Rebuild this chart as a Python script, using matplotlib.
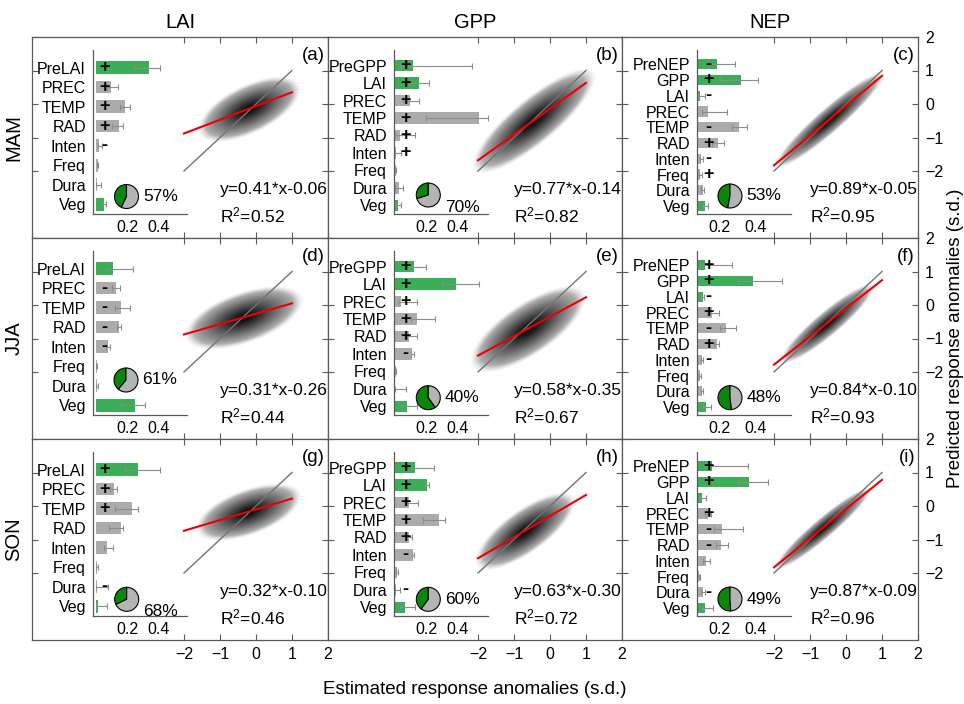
import numpy as np
import matplotlib
matplotlib.use("Agg")
import matplotlib.pyplot as plt
from matplotlib.transforms import blended_transform_factory

plt.rcParams['font.family'] = ['Liberation Sans', 'DejaVu Sans']
plt.rcParams['mathtext.fontset'] = 'custom'
plt.rcParams['mathtext.rm'] = 'Liberation Sans'
plt.rcParams['mathtext.it'] = 'Liberation Sans'

# figure size in pixels
W, H = 964, 704

# ---------------- data ----------------
targets = ["LAI", "GPP", "NEP"]
seasons = ["MAM", "JJA", "SON"]
tags = ["(a)", "(b)", "(c)", "(d)", "(e)", "(f)", "(g)", "(h)", "(i)"]

labels_lai = ["PreLAI", "PREC", "TEMP", "RAD", "Inten", "Freq", "Dura", "Veg"]
labels_gpp = ["PreGPP", "LAI", "PREC", "TEMP", "RAD", "Inten", "Freq", "Dura", "Veg"]
labels_nep = ["PreNEP", "GPP", "LAI", "PREC", "TEMP", "RAD", "Inten", "Freq", "Dura", "Veg"]
green_lai = ["PreLAI", "Veg"]
green_gpp = ["PreGPP", "LAI", "Veg"]
green_nep = ["PreNEP", "GPP", "LAI", "Veg"]

# relative importance (bar), error bar low / high, sign of effect
imp_a = [0.34, 0.096, 0.186, 0.143, 0.02, 0.01, 0.005, 0.05]
lo_a = [0.24, 0.068, 0.154, 0.10, 0.01, 0.005, 0.0, 0.04]
hi_a = [0.41, 0.137, 0.213, 0.17, 0.035, 0.015, 0.03, 0.06]
sign_a = ["+", "+", "+", "+", "-", "", "", ""]

imp_b = [0.116, 0.154, 0.095, 0.53, 0.032, 0.01, 0.005, 0.025, 0.02]
lo_b = [0.03, 0.09, 0.05, 0.196, 0.0, 0.0, 0.0, 0.0, 0.0]
hi_b = [0.49, 0.217, 0.154, 0.59, 0.13, 0.04, 0.008, 0.05, 0.04]
sign_b = ["+", "+", "+", "+", "+", "+", "", "", ""]

imp_c = [0.184, 0.317, 0.089, 0.138, 0.306, 0.19, 0.097, 0.093, 0.107, 0.12]
lo_c = [0.14, 0.2, 0.08, 0.1, 0.27, 0.16, 0.09, 0.085, 0.095, 0.11]
hi_c = [0.284, 0.415, 0.12, 0.239, 0.353, 0.226, 0.11, 0.105, 0.115, 0.135]
sign_c = ["-", "+", "-", "", "-", "+", "-", "+", "", ""]

imp_d = [0.107, 0.124, 0.16, 0.145, 0.073, 0.003, 0.005, 0.246]
lo_d = [0.07, 0.1, 0.12, 0.13, 0.06, 0.0, 0.0, 0.16]
hi_d = [0.235, 0.15, 0.218, 0.16, 0.09, 0.006, 0.015, 0.31]
sign_d = ["", "-", "-", "-", "-", "", "", ""]

imp_e = [0.122, 0.39, 0.042, 0.143, 0.089, 0.11, 0.005, 0.0, 0.078]
lo_e = [0.09, 0.3, 0.02, 0.1, 0.06, 0.1, 0.0, 0.0, 0.04]
hi_e = [0.196, 0.53, 0.141, 0.253, 0.141, 0.12, 0.008, 0.07, 0.14]
sign_e = ["+", "+", "+", "+", "+", "-", "", "", ""]

imp_f = [0.12, 0.384, 0.106, 0.16, 0.235, 0.188, 0.102, 0.093, 0.102, 0.124]
lo_f = [0.09, 0.3, 0.095, 0.13, 0.2, 0.17, 0.095, 0.088, 0.095, 0.11]
hi_f = [0.266, 0.543, 0.115, 0.197, 0.293, 0.197, 0.11, 0.098, 0.108, 0.151]
sign_f = ["+", "+", "-", "+", "-", "+", "-", "", "", ""]

imp_g = [0.267, 0.111, 0.229, 0.158, 0.068, 0.005, 0.005, 0.015]
lo_g = [0.186, 0.09, 0.122, 0.08, 0.05, 0.0, 0.0, 0.0]
hi_g = [0.41, 0.13, 0.267, 0.169, 0.105, 0.01, 0.073, 0.072]
sign_g = ["+", "+", "+", "", "", "", "-", ""]

imp_h = [0.131, 0.207, 0.089, 0.28, 0.089, 0.116, 0.016, 0.005, 0.063]
lo_h = [0.1, 0.19, 0.06, 0.18, 0.07, 0.11, 0.01, 0.0, 0.03]
hi_h = [0.247, 0.217, 0.148, 0.316, 0.11, 0.12, 0.02, 0.03, 0.13]
sign_h = ["+", "+", "+", "+", "+", "-", "", "-", ""]

imp_i = [0.157, 0.362, 0.102, 0.135, 0.215, 0.206, 0.124, 0.088, 0.106, 0.117]
lo_i = [0.12, 0.3, 0.09, 0.12, 0.17, 0.18, 0.11, 0.085, 0.095, 0.1]
hi_i = [0.357, 0.466, 0.126, 0.15, 0.33, 0.244, 0.148, 0.092, 0.117, 0.166]
sign_i = ["+", "+", "", "+", "-", "-", "", "", "-", ""]

# pie: share shown as gray (text), green is the rest
pie_pct = [57, 70, 53, 61, 40, 48, 68, 60, 49]

# regression of predicted on estimated
slope = [0.41, 0.77, 0.89, 0.31, 0.58, 0.84, 0.32, 0.63, 0.87]
intercept = [-0.06, -0.14, -0.05, -0.26, -0.35, -0.10, -0.10, -0.30, -0.09]
r2 = [0.52, 0.82, 0.95, 0.44, 0.67, 0.93, 0.46, 0.72, 0.96]
# cloud centre and spread along the estimated axis
cloud_mx = [-0.2, -0.46, -0.47, -0.35, -0.62, -0.53, -0.22, -0.7, -0.65]
cloud_sx = [0.4, 0.48, 0.43, 0.46, 0.45, 0.37, 0.41, 0.39, 0.38]

ticks = [-2, -1, 0, 1, 2]
bar_ticks = [0.2, 0.4]

# ---------------- layout (pixels) ----------------
col_left = [32, 328, 622]
col_w = [296, 294, 296]
row_top = [37, 238, 439]
row_h = 201
bar_off = [61, 66, 75]
bar_xlim = [(-0.02, 0.58), (-0.005, 0.59), (0.075, 0.595)]
pie_center = [(126.5, 196.5), (428.3, 195), (730, 196),
              (126, 380), (428.3, 397.7), (730, 397.7),
              (126.7, 599.3), (428.3, 599.3), (730, 599)]
pie_text_dy = [0, 13, 0, 0, 0, 0, 12, 0, 0]

c_green = '#3cae58'
c_gray = '#ababab'
c_pie_green = '#0b860b'
c_pie_gray = '#b4b4b4'
c_spine = '0.35'


def box(left, top, w, h):
    return [left / W, 1 - (top + h) / H, w / W, h / H]


panels = [
    (labels_lai, green_lai, imp_a, lo_a, hi_a, sign_a),
    (labels_gpp, green_gpp, imp_b, lo_b, hi_b, sign_b),
    (labels_nep, green_nep, imp_c, lo_c, hi_c, sign_c),
    (labels_lai, green_lai, imp_d, lo_d, hi_d, sign_d),
    (labels_gpp, green_gpp, imp_e, lo_e, hi_e, sign_e),
    (labels_nep, green_nep, imp_f, lo_f, hi_f, sign_f),
    (labels_lai, green_lai, imp_g, lo_g, hi_g, sign_g),
    (labels_gpp, green_gpp, imp_h, lo_h, hi_h, sign_h),
    (labels_nep, green_nep, imp_i, lo_i, hi_i, sign_i),
]

fig = plt.figure(figsize=(W / 100, H / 100), dpi=100)

for r in range(3):
    for c in range(3):
        k = r * 3 + c
        # ---- scatter panel (outer box) ----
        ax = fig.add_axes(box(col_left[c], row_top[r], col_w[c], row_h))
        ax.set_xlim(2 - col_w[c] / 36.0, 2)
        ax.set_ylim(2 - row_h / 33.5, 2)
        ax.set_xticks(ticks)
        ax.set_yticks(ticks)
        ax.tick_params(direction='in', top=True, right=True, length=4,
                       color=c_spine, labelsize=11.5, pad=5,
                       labelbottom=(r == 2), labelleft=False,
                       labelright=(c == 2))
        for sp in ax.spines.values():
            sp.set_color(c_spine)
            sp.set_linewidth(0.9)

        # density of the point cloud (grey scale, darker in the core)
        a, b = slope[k], intercept[k]
        sx = cloud_sx[k]
        sr = 1.2 * abs(a) * sx * np.sqrt(1.0 / r2[k] - 1.0) + 0.03
        xs = np.linspace(-2.9, 1.9, 400)
        ys = np.linspace(-3.3, 1.95, 400)
        gx, gy = np.meshgrid(xs, ys)
        u = (gx - cloud_mx[k]) / sx
        v = (gy - (a * gx + b)) / sr
        rr = np.sqrt(u ** 2 + v ** 2)
        rmax = 3.6
        lvl = 0.84 * np.clip((rr - 0.3) / (rmax - 0.3), 0, 1) ** 1.1
        alpha = np.clip((rmax - rr) / 0.6, 0, 1) * 0.95
        rgba = np.dstack([lvl, lvl, lvl, alpha])
        ax.imshow(rgba, origin='lower', extent=(xs[0], xs[-1], ys[0], ys[-1]),
                  aspect='auto', interpolation='bilinear', zorder=1)

        lx = np.array([-2, 1])
        ax.plot(lx, lx, color='0.45', lw=1.0, zorder=2)
        ax.plot(lx, a * lx + b, color='#ee0000', lw=1.5, zorder=3)

        ax.text(0.634, 0.239, f"y={a:.2f}*x{b:+.2f}", transform=ax.transAxes,
                fontsize=12.5, va='center', ha='left')
        ax.text(0.634, 0.114, r"R$^{2}$" + f"={r2[k]:.2f}", transform=ax.transAxes,
                fontsize=12.5, va='center', ha='left')
        ax.text(0.99, 0.91, tags[k], transform=ax.transAxes,
                fontsize=13.5, va='center', ha='right')

        # ---- bar chart of relative importance ----
        names, greens, imp, lo, hi, sign = panels[k]
        imp = np.array(imp)
        lo = np.array(lo)
        hi = np.array(hi)
        yp = np.arange(len(names))
        bx = fig.add_axes(box(col_left[c] + bar_off[c], row_top[r] + 13, 94, 164))
        bx.patch.set_alpha(0)
        cols = [c_green if n in greens else c_gray for n in names]
        bx.barh(yp, imp, height=0.65, color=cols, zorder=2)
        bx.errorbar(imp, yp, xerr=[imp - lo, hi - imp], fmt='none',
                    ecolor='0.55', elinewidth=0.8, capsize=2, capthick=0.8,
                    zorder=3)
        trans = blended_transform_factory(bx.transAxes, bx.transData)
        for yi, s in zip(yp, sign):
            if s:
                bx.text(0.125, yi, s, transform=trans, ha='center', va='center',
                        fontsize=13, fontweight='bold', zorder=4)
        bx.set_ylim(len(names) - 0.5, -0.9)
        bx.set_xlim(*bar_xlim[c])
        bx.set_yticks(yp)
        bx.set_yticklabels(names)
        bx.set_xticks(bar_ticks)
        bx.set_xticklabels(["0.2", "0.4"])
        bx.tick_params(length=0, labelsize=11.5, pad=4)
        bx.tick_params(axis='y', pad=5)
        for side in ['top', 'right']:
            bx.spines[side].set_visible(False)
        for side in ['left', 'bottom']:
            bx.spines[side].set_color(c_spine)
            bx.spines[side].set_linewidth(0.9)

        # ---- pie of explained share ----
        pcx, pcy = pie_center[k]
        pr = 15
        px = fig.add_axes(box(pcx - pr, pcy - pr, 2 * pr, 2 * pr))
        px.pie([100 - pie_pct[k], pie_pct[k]], colors=[c_pie_green, c_pie_gray],
               startangle=90, counterclock=True,
               wedgeprops=dict(edgecolor='k', linewidth=0.8))
        fig.text((pcx + 16.5) / W, 1 - (pcy + pie_text_dy[k]) / H,
                 f"{pie_pct[k]}%", fontsize=12.5, ha='left', va='center')

# column and row titles
for c, t in enumerate(targets):
    fig.text((col_left[c] + col_w[c] / 2) / W, 1 - 23 / H, t,
             fontsize=14.5, ha='center', va='center')
for r, s in enumerate(seasons):
    fig.text(14 / W, 1 - (row_top[r] + row_h / 2) / H, s, rotation=90,
             fontsize=14.5, ha='center', va='center')

fig.text(475 / W, 1 - 690 / H, "Estimated response anomalies (s.d.)",
         fontsize=13.5, ha='center', va='center')
fig.text(956 / W, 1 - 338 / H, "Predicted response anomalies (s.d.)",
         fontsize=13.5, ha='center', va='center', rotation=90)

fig.savefig("out.png", dpi=100)
